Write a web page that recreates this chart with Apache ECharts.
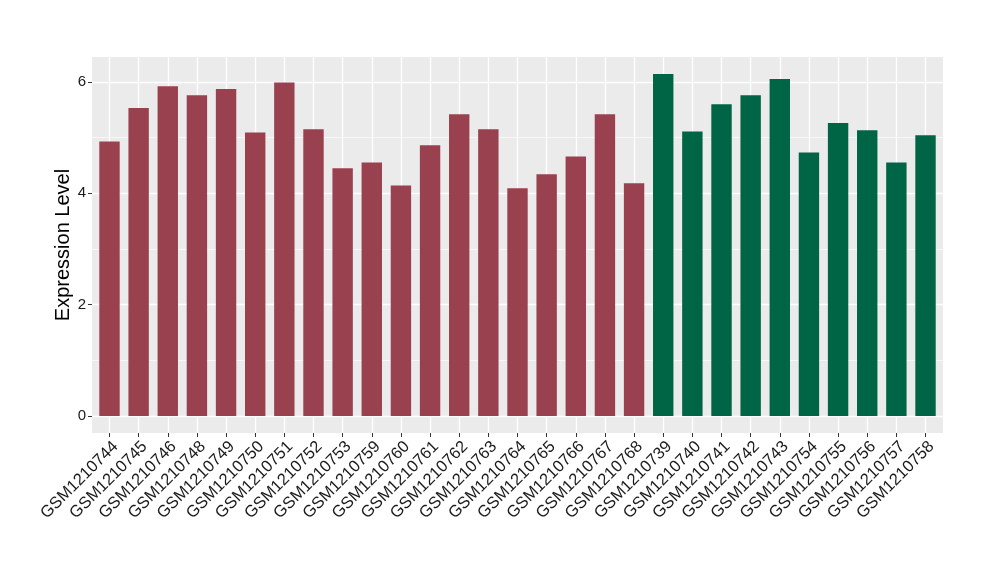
<!DOCTYPE html>
<html>
<head>
<meta charset="utf-8">
<script src="https://cdn.jsdelivr.net/npm/echarts@6/dist/echarts.min.js"></script>
<style>html,body{margin:0;padding:0;background:#fff}#c{width:1000px;height:580px}</style>
</head>
<body>
<div id="c"></div>
<script>
const categories = ["GSM1210744","GSM1210745","GSM1210746","GSM1210748","GSM1210749","GSM1210750","GSM1210751","GSM1210752","GSM1210753","GSM1210759","GSM1210760","GSM1210761","GSM1210762","GSM1210763","GSM1210764","GSM1210765","GSM1210766","GSM1210767","GSM1210768","GSM1210739","GSM1210740","GSM1210741","GSM1210742","GSM1210743","GSM1210754","GSM1210755","GSM1210756","GSM1210757","GSM1210758"];
const values = [4.93,5.53,5.92,5.76,5.87,5.09,5.99,5.15,4.45,4.55,4.14,4.86,5.42,5.15,4.09,4.34,4.66,5.42,4.18,6.14,5.11,5.60,5.76,6.05,4.73,5.26,5.13,4.55,5.04];
const groups = ["A","A","A","A","A","A","A","A","A","A","A","A","A","A","A","A","A","A","A","B","B","B","B","B","B","B","B","B","B"];
const groupColors = {A:"#9A4150", B:"#006544"};
const yTicks = [0,2,4,6];
const yMinor = [1,3,5];

const maxV = Math.max(...values);
const yMin = -0.05*maxV, yMax = maxV*1.05;
const idx = categories.map((c,i)=>i);

const chart = echarts.init(document.getElementById('c'), null, {renderer:'canvas'});
const font = "'Liberation Sans', Arial, sans-serif";
chart.setOption({
  animation:false,
  grid:{left:92,right:57,top:57,bottom:147,show:true,backgroundColor:'#EBEBEB',borderWidth:0},
  xAxis:{
    type:'value', min:-0.6, max:categories.length-1+0.6,
    axisLine:{show:false,onZero:false},
    axisTick:{show:true,length:4,lineStyle:{color:'#333333',width:1},customValues:idx},
    axisLabel:{customValues:idx,rotate:45,fontSize:16.5,color:'#1A1A1A',fontFamily:font,margin:5,
      verticalAlign:'top',
      formatter:v=>categories[Math.round(v)]},
    splitLine:{show:true,lineStyle:{color:'#FFFFFF',width:1.3}}
  },
  yAxis:[{
    type:'value', min:yMin, max:yMax,
    name:'Expression Level', nameLocation:'middle', nameGap:19, nameMoveOverlap:false,
    nameTextStyle:{fontSize:20,color:'#000',fontFamily:font},
    axisLine:{show:false,onZero:false},
    axisTick:{show:true,length:4,lineStyle:{color:'#333333',width:1},customValues:yTicks},
    axisLabel:{customValues:yTicks,fontSize:15,color:'#1A1A1A',fontFamily:font,margin:6},
    splitLine:{show:true,lineStyle:{color:'#FFFFFF',width:1.3}}
  },{
    type:'value', min:yMin, max:yMax, position:'left',
    axisLine:{show:false,onZero:false},
    axisTick:{show:false,customValues:yMinor},
    axisLabel:{show:false,customValues:yMinor},
    splitLine:{show:true,lineStyle:{color:'#FFFFFF',width:0.6}}
  }],
  series:[{
    type:'bar',
    barWidth:'70%',
    data:values.map((v,i)=>({value:[i,v],itemStyle:{color:groupColors[groups[i]]}})),
    z:3
  }]
});
</script>
</body>
</html>
